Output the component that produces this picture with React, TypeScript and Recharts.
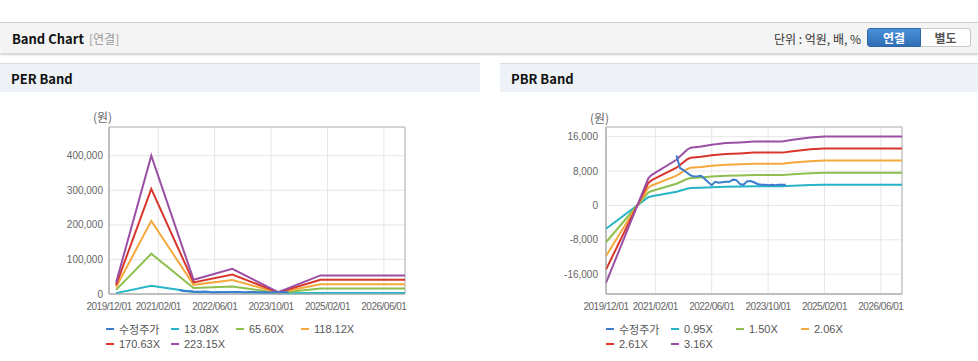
import { LineChart, Line, XAxis, YAxis, CartesianGrid, ReferenceArea } from 'recharts';

// x positions are months counted from 2019/12
const TICK_MONTHS = [0, 14, 30, 46, 62, 78];
const TICK_LABELS = ['2019/12/01', '2021/02/01', '2022/06/01', '2023/10/01', '2025/02/01', '2026/06/01'];

const PRICE_MONTHS = [20, 21, 22, 23, 24, 25, 26, 27, 28, 29, 30, 31, 32, 33, 34, 35, 36, 37, 38, 39, 40, 41, 42, 43, 44, 45, 46, 47, 48, 49, 50, 51];
const PRICE = [11600, 8700, 8200, 7600, 7000, 6750, 6800, 6900, 6200, 5400, 4700, 5500, 5300, 5400, 5500, 5500, 6000, 5900, 5000, 4800, 5600, 5700, 5400, 5000, 4800, 4800, 4700, 4800, 4700, 4800, 4800, 4800];

const PER_MONTHS = [2, 12, 24, 35, 48, 60, 84];
const PER_13 = [2500, 24000, 6000, 5000, 2000, 3200, 3200];
const PER_65 = [12000, 116500, 17500, 22000, 3200, 15800, 15800];
const PER_118 = [19500, 211500, 26500, 40500, 4000, 28400, 28400];
const PER_170 = [25500, 304000, 33500, 56500, 4800, 41000, 41000];
const PER_223 = [32500, 400000, 41000, 73000, 5500, 53700, 53700];
const PER_NAMES = ['13.08X', '65.60X', '118.12X', '170.63X', '223.15X'];

const PBR_MONTHS = [0, 12, 13, 20, 23, 24, 27, 30, 34, 38, 42, 50, 53, 58, 62, 84];
const PBR_095 = [-5425, 1900, 2140, 3190, 3900, 4040, 4120, 4250, 4360, 4410, 4480, 4480, 4600, 4750, 4830, 4830];
const PBR_150 = [-8565, 3000, 3380, 5040, 6150, 6380, 6510, 6710, 6890, 6960, 7070, 7070, 7260, 7500, 7620, 7620];
const PBR_206 = [-11760, 4120, 4640, 6920, 8450, 8760, 8940, 9210, 9460, 9560, 9700, 9700, 9970, 10300, 10470, 10470];
const PBR_261 = [-14900, 5220, 5870, 8770, 10700, 11090, 11330, 11670, 11980, 12110, 12290, 12290, 12630, 13050, 13260, 13260];
const PBR_316 = [-18040, 6320, 7110, 10620, 12960, 13430, 13710, 14130, 14500, 14660, 14880, 14880, 15290, 15800, 16050, 16050];
const PBR_NAMES = ['0.95X', '1.50X', '2.06X', '2.61X', '3.16X'];

const PRICE_NAME = '수정주가';
const PRICE_COLOR = '#3b7dcc';
const BAND_COLORS = ['#26b5c6', '#8dbf4e', '#f5a83b', '#d8362c', '#9b4fa4'];

const NUM_FONT = "'Liberation Sans', Arial, 'Noto Sans CJK KR', sans-serif";
const KR_FONT = "'Noto Sans CJK KR', 'Noto Sans', sans-serif";

function buildRows(months: number[], bands: number[][]) {
  const map = new Map<number, any>();
  const get = (m: number) => {
    if (!map.has(m)) map.set(m, { m });
    return map.get(m);
  };
  bands.forEach((s, k) => months.forEach((m, i) => { get(m)['b' + k] = s[i]; }));
  PRICE_MONTHS.forEach((m, i) => { get(m).price = PRICE[i]; });
  return [...map.values()].sort((a, b) => a.m - b.m);
}

const perRows = buildRows(PER_MONTHS, [PER_13, PER_65, PER_118, PER_170, PER_223]);
const pbrRows = buildRows(PBR_MONTHS, [PBR_095, PBR_150, PBR_206, PBR_261, PBR_316]);

interface BandProps {
  left: number;
  rows: any[];
  yDomain: [number, number];
  yTicks: number[];
  yWidth: number;
  yTickMargin: number;
  names: string[];
}

function Band({ left, rows, yDomain, yTicks, yWidth, yTickMargin, names }: BandProps) {
  const yTick = { fontSize: 10, fill: '#666', fontFamily: NUM_FONT };
  const xTick = { fontSize: 10, fill: '#666', fontFamily: NUM_FONT, letterSpacing: -0.5 };
  return (
    <div style={{ position: 'absolute', left, top: 100 }}>
      <LineChart width={380} height={214} data={rows} margin={{ top: 27, right: 380 - 296 - yWidth, bottom: 0, left: 0 }}>
        <CartesianGrid stroke="#e6e6e6" />
        <XAxis
          type="number"
          dataKey="m"
          domain={[0, 84]}
          ticks={TICK_MONTHS}
          interval={0}
          tickFormatter={(v: number) => TICK_LABELS[TICK_MONTHS.indexOf(v)]}
          tick={xTick}
          tickLine={false}
          tickMargin={3}
          height={20}
          stroke="#aaa"
        />
        <YAxis
          type="number"
          domain={yDomain}
          ticks={yTicks}
          interval={0}
          tickFormatter={(v: number) => v.toLocaleString('en-US')}
          tick={yTick}
          tickLine={false}
          tickMargin={yTickMargin}
          width={yWidth}
          stroke="#aaa"
        />
        <ReferenceArea x1={0} x2={84} y1={yDomain[0]} y2={yDomain[1]} fill="none" stroke="#b4b4b4" />
        {names.map((n, k) => (
          <Line
            key={n}
            dataKey={'b' + k}
            name={n}
            type="linear"
            stroke={BAND_COLORS[k]}
            strokeWidth={2}
            dot={false}
            connectNulls
            isAnimationActive={false}
          />
        ))}
        <Line
          dataKey="price"
          name={PRICE_NAME}
          type="linear"
          stroke={PRICE_COLOR}
          strokeWidth={2}
          dot={false}
          connectNulls
          isAnimationActive={false}
        />
      </LineChart>
    </div>
  );
}

function BandLegend({ left, names }: { left: number; names: string[] }) {
  const items = [{ n: PRICE_NAME, c: PRICE_COLOR }, ...names.map((n, k) => ({ n, c: BAND_COLORS[k] }))];
  return (
    <div style={{ position: 'absolute', left, top: 321, width: 270, display: 'flex', flexWrap: 'wrap' }}>
      {items.map((it) => (
        <div key={it.n} style={{ width: 65, height: 15, display: 'flex', alignItems: 'center', fontSize: 11, color: '#555', fontFamily: NUM_FONT }}>
          <span style={{ display: 'inline-block', width: 8, height: 2, background: it.c, marginRight: 5 }} />
          <span style={{ whiteSpace: 'nowrap' }}>{it.n}</span>
        </div>
      ))}
    </div>
  );
}

function PanelHeader({ left, width, title }: { left: number; width: number; title: string }) {
  return (
    <div style={{ position: 'absolute', left, top: 63, width, height: 28, background: '#eef1f6', borderTop: '1px solid #d9d9d9' }}>
      <span style={{ position: 'absolute', left: 11, top: 5, fontSize: 13, fontWeight: 700, color: '#111', fontFamily: KR_FONT }}>{title}</span>
    </div>
  );
}

export default function App() {
  return (
    <div style={{ position: 'relative', width: 978, height: 361, background: '#fff', overflow: 'hidden', fontFamily: KR_FONT }}>
      <style>{'body{margin:0}'}</style>
      <div style={{ position: 'absolute', left: 0, top: 22, width: 978, height: 30, background: '#f4f4f4', borderTop: '1px solid #cdcdcd', boxShadow: '0 2px 2px rgba(0,0,0,0.18)' }}>
        <span style={{ position: 'absolute', left: 12, top: 6, fontSize: 13, fontWeight: 700, color: '#111' }}>Band Chart</span>
        <span style={{ position: 'absolute', left: 89, top: 7, fontSize: 12, color: '#999' }}>[연결]</span>
        <span style={{ position: 'absolute', right: 117, top: 7, fontSize: 12, color: '#333' }}>단위 : 억원, 배, %</span>
        <div style={{ position: 'absolute', left: 867, top: 5, height: 19, display: 'flex', fontSize: 12, fontWeight: 700 }}>
          <div style={{ width: 52, height: 17, lineHeight: '17px', textAlign: 'center', color: '#fff', background: 'linear-gradient(#4a90d9, #2f6db3)', border: '1px solid #2d66a6', borderRadius: '3px 0 0 3px' }}>연결</div>
          <div style={{ width: 49, height: 17, lineHeight: '17px', textAlign: 'center', color: '#555', background: '#fff', border: '1px solid #c9c9c9', borderLeft: 'none', borderRadius: '0 3px 3px 0' }}>별도</div>
        </div>
      </div>

      <PanelHeader left={0} width={480} title="PER Band" />
      <PanelHeader left={500} width={478} title="PBR Band" />

      <span style={{ position: 'absolute', left: 93, top: 108, fontSize: 12, color: '#666' }}>(원)</span>
      <span style={{ position: 'absolute', left: 590, top: 109, fontSize: 12, color: '#666' }}>(원)</span>

      <Band left={40} rows={perRows} yDomain={[0, 483000]} yTicks={[0, 100000, 200000, 300000, 400000]} yWidth={69} yTickMargin={0} names={PER_NAMES} />
      <Band left={540} rows={pbrRows} yDomain={[-20600, 18250]} yTicks={[-16000, -8000, 0, 8000, 16000]} yWidth={66} yTickMargin={2} names={PBR_NAMES} />

      <BandLegend left={106} names={PER_NAMES} />
      <BandLegend left={606} names={PBR_NAMES} />
    </div>
  );
}
